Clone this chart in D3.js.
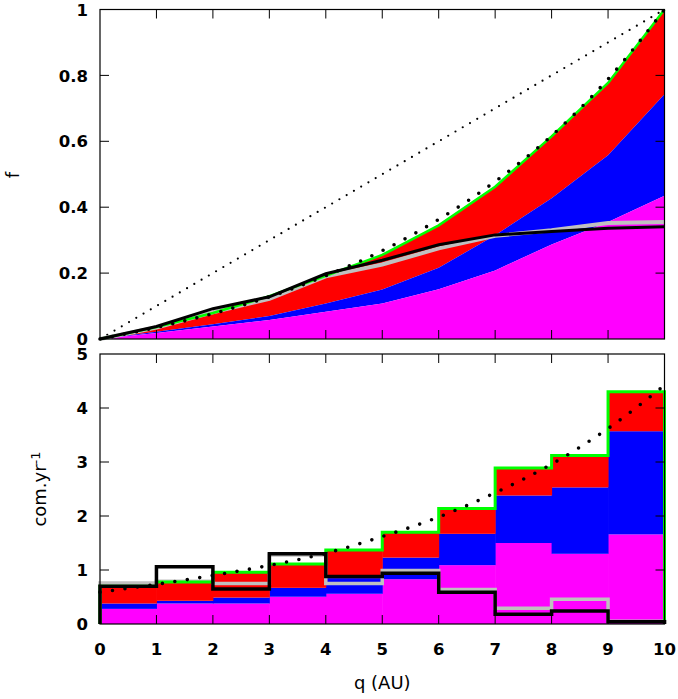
<!DOCTYPE html>
<html>
<head>
<meta charset="utf-8">
<script src="https://cdn.jsdelivr.net/npm/d3@7"></script>
<style>
  html, body { margin: 0; padding: 0; background: #fff; }
  svg { display: block; }
</style>
</head>
<body>
<svg id="chart" width="678" height="699"></svg>
<script>
// ---------- DATA ----------
// Top panel: cumulative fraction f at q = 0..10
const qPoints = [0, 1, 2, 3, 4, 5, 6, 7, 8, 9, 10];
const topMagenta = [0, 0.018, 0.038, 0.058, 0.083, 0.108, 0.151, 0.208, 0.287, 0.355, 0.435];
const topBlue    = [0, 0.022, 0.045, 0.070, 0.108, 0.150, 0.216, 0.315, 0.427, 0.558, 0.743];
const topTotal   = [0, 0.036, 0.079, 0.130, 0.192, 0.255, 0.345, 0.462, 0.615, 0.777, 1.0];
const topGrey    = [0, 0.035, 0.081, 0.122, 0.190, 0.226, 0.275, 0.313, 0.330, 0.352, 0.355];
const topBlack   = [0, 0.038, 0.092, 0.128, 0.198, 0.239, 0.286, 0.316, 0.326, 0.336, 0.341];
const topModel   = [0, 0.035, 0.077, 0.128, 0.192, 0.268, 0.363, 0.478, 0.617, 0.789, 1.0];
const topDiag    = [0, 1];
const topDiagQ   = [0, 10];

// Bottom panel: rate per 1 AU bin (bins 0-1 ... 9-10)
const binStarts  = [0, 1, 2, 3, 4, 5, 6, 7, 8, 9];
const binMagenta = [0.28, 0.38, 0.38, 0.505, 0.56, 0.83, 1.09, 1.50, 1.30, 1.66];
const binBlue    = [0.10, 0.05, 0.11, 0.165, 0.29, 0.40, 0.58, 0.88, 1.23, 1.91];
const binRed     = [0.32, 0.35, 0.47, 0.44, 0.52, 0.47, 0.47, 0.51, 0.59, 0.73];
const binGrey    = [0.76, 0.79, 0.75, 1.28, 0.75, 0.99, 0.64, 0.29, 0.46, 0.05];
const binBlack   = [0.70, 1.06, 0.65, 1.30, 0.88, 0.94, 0.59, 0.18, 0.24, 0.04];
const botModel   = [0.59, 0.735, 0.90, 1.085, 1.31, 1.62, 1.98, 2.43, 2.96, 3.62, 4.42];

const topYTicks = [0, 0.2, 0.4, 0.6, 0.8, 1];
const topYLabels = ["0", "0.2", "0.4", "0.6", "0.8", "1"];
const botYTicks = [0, 1, 2, 3, 4, 5];
const xTicks = [0, 1, 2, 3, 4, 5, 6, 7, 8, 9, 10];

const colors = { magenta: "#ff00ff", blue: "#0000ff", red: "#ff0000", green: "#00ff00", grey: "#c0c0c0", black: "#000000" };

// ---------- LAYOUT ----------
const svg = d3.select("#chart");
const X0 = 100, X1 = 664.5;
const x = d3.scaleLinear().domain([0, 10]).range([X0, X1]);
const yTop = d3.scaleLinear().domain([0, 1]).range([339, 9.5]);
const yBot = d3.scaleLinear().domain([0, 5]).range([624, 354]);
const tickFont = "'DejaVu Sans', sans-serif";

// ---------- TOP PANEL ----------
const gTop = svg.append("g");
const idx = qPoints.map((q, i) => i);

function band(lo, hi) {
  return d3.area().x(i => x(qPoints[i])).y0(i => yTop(lo ? lo[i] : 0)).y1(i => yTop(hi[i]))(idx);
}
gTop.append("path").attr("d", band(topBlue, topTotal)).attr("fill", colors.red);
gTop.append("path").attr("d", band(topMagenta, topBlue)).attr("fill", colors.blue);
gTop.append("path").attr("d", band(null, topMagenta)).attr("fill", colors.magenta);

const lineTop = arr => d3.line().x(i => x(qPoints[i])).y(i => yTop(arr[i]))(idx);

// thin dotted diagonal
gTop.append("path")
  .attr("d", d3.line().x((d, i) => x(topDiagQ[i])).y(d => yTop(d))(topDiag))
  .attr("fill", "none").attr("stroke", "#000").attr("stroke-width", 2.2)
  .attr("stroke-linecap", "round").attr("stroke-dasharray", "0 8.4");

gTop.append("path").attr("d", lineTop(topGrey)).attr("fill", "none")
  .attr("stroke", colors.grey).attr("stroke-width", 4);
gTop.append("path").attr("d", lineTop(topTotal)).attr("fill", "none")
  .attr("stroke", colors.green).attr("stroke-width", 2.5);
gTop.append("path").attr("d", lineTop(topBlack)).attr("fill", "none")
  .attr("stroke", colors.black).attr("stroke-width", 3);
gTop.append("path")
  .attr("d", d3.line().curve(d3.curveMonotoneX).x(i => x(qPoints[i])).y(i => yTop(topModel[i]))(idx))
  .attr("fill", "none").attr("stroke", "#000").attr("stroke-width", 3.6)
  .attr("stroke-linecap", "round").attr("stroke-dasharray", "0 12.4");

// ---------- BOTTOM PANEL ----------
const gBot = svg.append("g");
const stackData = binStarts.map((s, i) => ({ s, magenta: binMagenta[i], blue: binBlue[i], red: binRed[i] }));
const stack = d3.stack().keys(["magenta", "blue", "red"])(stackData);
stack.forEach(layer => {
  gBot.append("g").selectAll("rect").data(layer).join("rect")
    .attr("x", d => x(d.data.s))
    .attr("width", d => x(d.data.s + 1) - x(d.data.s) + 0.5)
    .attr("y", d => yBot(d[1]))
    .attr("height", d => yBot(d[0]) - yBot(d[1]))
    .attr("fill", colors[layer.key]);
});

function stepPath(vals) {
  const pts = [[0, 0]];
  vals.forEach((v, i) => pts.push([binStarts[i], v]));
  pts.push([10, vals[vals.length - 1]]);
  pts.push([10, 0]);
  return d3.line().curve(d3.curveStepAfter).x(d => x(d[0])).y(d => yBot(d[1]))(pts);
}
const binTotal = binStarts.map((s, i) => binMagenta[i] + binBlue[i] + binRed[i]);

gBot.append("path").attr("d", stepPath(binGrey)).attr("fill", "none")
  .attr("stroke", colors.grey).attr("stroke-width", 3.5);
gBot.append("path").attr("d", stepPath(binTotal)).attr("fill", "none")
  .attr("stroke", colors.green).attr("stroke-width", 3);
gBot.append("path").attr("d", stepPath(binBlack)).attr("fill", "none")
  .attr("stroke", colors.black).attr("stroke-width", 3.5);
gBot.append("path")
  .attr("d", d3.line().curve(d3.curveMonotoneX).x((d, i) => x(qPoints[i])).y(d => yBot(d))(botModel))
  .attr("fill", "none").attr("stroke", "#000").attr("stroke-width", 3.6)
  .attr("stroke-linecap", "round").attr("stroke-dasharray", "0 12.6");

// ---------- FRAMES, TICKS, LABELS ----------
function frame(yScale, yTicks, yLabels, showX) {
  const g = svg.append("g");
  const [yb, yt] = yScale.range();
  const TL = 9;
  // ticks (mirrored, inward)
  xTicks.slice(1, -1).forEach(t => {
    g.append("line").attr("x1", x(t)).attr("x2", x(t)).attr("y1", yb).attr("y2", yb - TL)
      .attr("stroke", "#000").attr("stroke-width", 1);
    g.append("line").attr("x1", x(t)).attr("x2", x(t)).attr("y1", yt).attr("y2", yt + TL)
      .attr("stroke", "#000").attr("stroke-width", 1);
  });
  yTicks.slice(1, -1).forEach(t => {
    g.append("line").attr("x1", X0).attr("x2", X0 + TL).attr("y1", yScale(t)).attr("y2", yScale(t))
      .attr("stroke", "#000").attr("stroke-width", 1);
    g.append("line").attr("x1", X1).attr("x2", X1 - TL).attr("y1", yScale(t)).attr("y2", yScale(t))
      .attr("stroke", "#000").attr("stroke-width", 1);
  });
  g.append("rect").attr("x", X0).attr("y", yt).attr("width", X1 - X0).attr("height", yb - yt)
    .attr("fill", "none").attr("stroke", "#000").attr("stroke-width", 1.2);
  yTicks.forEach((t, i) => {
    g.append("text").attr("x", 88).attr("y", yScale(t)).attr("dy", "0.37em")
      .attr("text-anchor", "end").attr("font-family", tickFont).attr("font-weight", "bold")
      .attr("font-size", 16.5).attr("fill", "#000").text(yLabels[i]);
  });
  if (showX) {
    xTicks.forEach(t => {
      g.append("text").attr("x", x(t)).attr("y", 655)
        .attr("text-anchor", "middle").attr("font-family", tickFont).attr("font-weight", "bold")
        .attr("font-size", 16.5).attr("fill", "#000").text(String(t));
    });
  }
}
frame(yTop, topYTicks, topYLabels, false);
frame(yBot, botYTicks, botYTicks.map(String), true);

// axis titles
svg.append("text").attr("x", (X0 + X1) / 2).attr("y", 689).attr("text-anchor", "middle")
  .attr("font-family", tickFont).attr("font-size", 18).attr("fill", "#000").text("q (AU)");
svg.append("text").attr("transform", "translate(19,175) rotate(-90)").attr("text-anchor", "middle")
  .attr("font-family", tickFont).attr("font-size", 18).attr("fill", "#000").text("f");
const yl = svg.append("text").attr("transform", "translate(46,489) rotate(-90)").attr("text-anchor", "middle")
  .attr("font-family", tickFont).attr("font-size", 18).attr("fill", "#000");
yl.append("tspan").text("com.yr");
yl.append("tspan").attr("dy", "-0.45em").attr("font-size", 13).text("-1");
</script>
</body>
</html>
